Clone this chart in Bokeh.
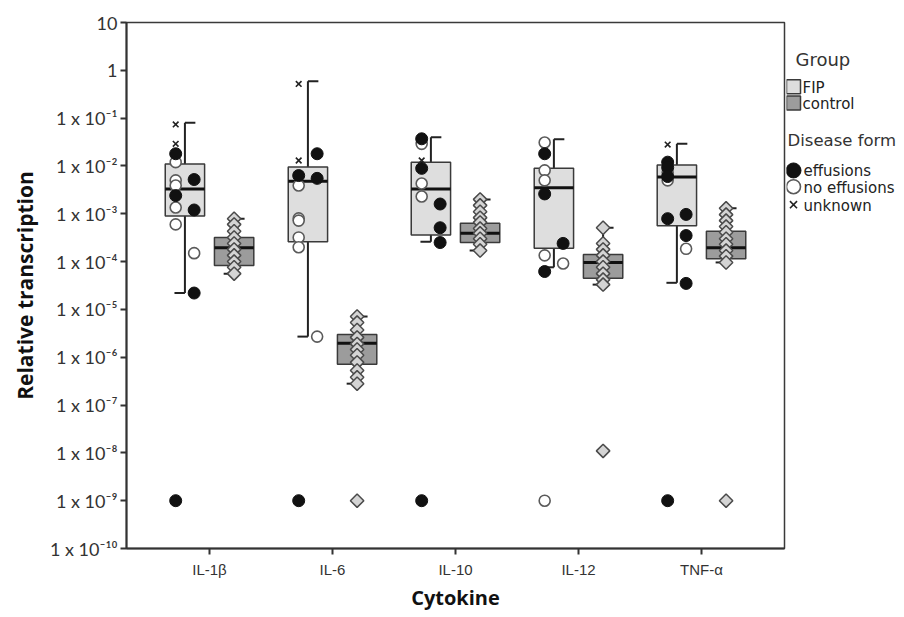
import json
from bokeh.plotting import figure
from bokeh.models import Range1d, FixedTicker, CustomJSTickFormatter, ColumnDataSource
from bokeh.layouts import row
from bokeh.embed import file_html
from bokeh.resources import INLINE
from bokeh.core.properties import value

# ---------------- data ----------------
cytokines = ["IL-1β", "IL-6", "IL-10", "IL-12", "TNF-α"]
groups = ["FIP", "control"]
forms = ["effusions", "no effusions", "unknown"]

# box statistics, FIP group
fip_whisker_hi = [8.0e-2, 0.59, 4.0e-2, 3.6e-2, 2.9e-2]
fip_q3 = [1.1e-2, 9.5e-3, 1.2e-2, 9.0e-3, 1.05e-2]
fip_median = [3.3e-3, 4.8e-3, 3.3e-3, 3.5e-3, 5.9e-3]
fip_q1 = [9.0e-4, 2.6e-4, 3.6e-4, 1.9e-4, 5.6e-4]
fip_whisker_lo = [2.2e-5, 2.7e-6, 2.6e-4, 7.6e-5, 3.6e-5]

# box statistics, control group
ctrl_whisker_hi = [7.9e-4, 7.1e-6, 2.0e-3, 5.1e-4, 1.3e-3]
ctrl_q3 = [3.2e-4, 3.0e-6, 6.3e-4, 1.4e-4, 4.3e-4]
ctrl_median = [1.95e-4, 1.95e-6, 3.9e-4, 9.6e-5, 1.95e-4]
ctrl_q1 = [8.3e-5, 7.1e-7, 2.5e-4, 4.5e-5, 1.15e-4]
ctrl_whisker_lo = [5.6e-5, 2.8e-7, 1.7e-4, 3.3e-5, 9.6e-5]

# FIP individual cats: cytokine, value, disease form, column (-1 left / +1 right)
fip_cytokine = (["IL-1β"] * 14 + ["IL-6"] * 12 + ["IL-10"] * 10 + ["IL-12"] * 10 + ["TNF-α"] * 12)
fip_value = [
    7.4e-2, 2.9e-2, 1.8e-2, 1.2e-2, 5.2e-3, 5.0e-3, 3.9e-3, 2.4e-3, 1.35e-3, 1.2e-3, 6.0e-4, 1.5e-4, 2.2e-5, 1e-9,
    0.52, 1.3e-2, 1.8e-2, 6.3e-3, 5.5e-3, 3.9e-3, 8.0e-4, 7.2e-4, 3.2e-4, 2.0e-4, 2.7e-6, 1e-9,
    3.7e-2, 2.9e-2, 1.3e-2, 8.9e-3, 4.3e-3, 2.3e-3, 1.6e-3, 5.1e-4, 2.5e-4, 1e-9,
    3.1e-2, 1.8e-2, 8.1e-3, 5.0e-3, 2.6e-3, 2.4e-4, 1.35e-4, 9.1e-5, 6.2e-5, 1e-9,
    2.8e-2, 1.2e-2, 9.3e-3, 7.3e-3, 6.0e-3, 5.0e-3, 9.7e-4, 7.9e-4, 3.5e-4, 1.85e-4, 3.5e-5, 1e-9,
]
fip_form = [
    "unknown", "unknown", "effusions", "no effusions", "effusions", "no effusions", "no effusions",
    "effusions", "no effusions", "effusions", "no effusions", "no effusions", "effusions", "effusions",
    "unknown", "unknown", "effusions", "effusions", "effusions", "no effusions", "no effusions",
    "no effusions", "no effusions", "no effusions", "no effusions", "effusions",
    "effusions", "no effusions", "unknown", "effusions", "no effusions", "no effusions", "effusions",
    "effusions", "effusions", "effusions",
    "no effusions", "effusions", "no effusions", "no effusions", "effusions", "effusions",
    "no effusions", "no effusions", "effusions", "no effusions",
    "unknown", "effusions", "effusions", "no effusions", "effusions", "no effusions", "effusions",
    "effusions", "effusions", "no effusions", "effusions", "effusions",
]
fip_column = [
    -1, -1, -1, -1, 1, -1, -1, -1, -1, 1, -1, 1, 1, -1,
    -1, -1, 1, -1, 1, -1, -1, -1, -1, -1, 1, -1,
    -1, -1, -1, -1, -1, -1, 1, 1, 1, -1,
    -1, -1, -1, -1, -1, 1, -1, 1, -1, -1,
    -1, -1, -1, -1, -1, -1, 1, -1, 1, 1, 1, -1,
]

# control individual cats
ctrl_cytokine = (["IL-1β"] * 10 + ["IL-6"] * 12 + ["IL-10"] * 10 + ["IL-12"] * 10 + ["TNF-α"] * 11)
ctrl_value = [
    7.9e-4, 6.0e-4, 4.3e-4, 3.2e-4, 2.4e-4, 1.8e-4, 1.35e-4, 1.0e-4, 7.6e-5, 5.6e-5,
    7.1e-6, 5.3e-6, 3.7e-6, 2.6e-6, 1.9e-6, 1.45e-6, 1.1e-6, 7.8e-7, 5.3e-7, 3.8e-7, 2.8e-7, 1e-9,
    2.0e-3, 1.5e-3, 1.1e-3, 8.3e-4, 6.6e-4, 4.9e-4, 3.9e-4, 3.0e-4, 2.3e-4, 1.7e-4,
    5.1e-4, 2.4e-4, 1.8e-4, 1.35e-4, 1.0e-4, 7.6e-5, 5.6e-5, 4.2e-5, 3.3e-5, 1.1e-8,
    1.3e-3, 9.6e-4, 7.2e-4, 5.4e-4, 4.1e-4, 3.0e-4, 2.3e-4, 1.7e-4, 1.3e-4, 9.6e-5, 1e-9,
]

y_tick_exponents = [1, 0, -1, -2, -3, -4, -5, -6, -7, -8, -9, -10]
y_tick_labels = ["10", "1", "1 x 10⁻¹", "1 x 10⁻²", "1 x 10⁻³", "1 x 10⁻⁴", "1 x 10⁻⁵",
                 "1 x 10⁻⁶", "1 x 10⁻⁷", "1 x 10⁻⁸", "1 x 10⁻⁹", "1 x 10⁻¹⁰"]

# ---------------- layout constants ----------------
FIP_OFF, CTRL_OFF = -0.20, 0.20
BOX_W = 0.32
SIDE = 0.075
CAP = 0.085
FIP_FILL, CTRL_FILL = "#dedede", "#9c9c9c"
EDGE = "#3a3a3a"
H = 615

p = figure(width=786, height=H, x_range=Range1d(-0.675, 4.675), y_range=Range1d(1e-10, 10),
           y_axis_type="log", output_backend="svg", toolbar_location=None,
           min_border_left=126, min_border_top=22, min_border_right=2, min_border_bottom=H - 548)
p.xgrid.visible = False
p.ygrid.visible = False
p.outline_line_color = EDGE
p.outline_line_width = 1.5
p.background_fill_color = "white"
p.border_fill_color = "white"

idx = {c: i for i, c in enumerate(cytokines)}


def draw_boxes(off, hi, q3, med, q1, lo, fill):
    xs = [i + off for i in range(len(cytokines))]
    src = ColumnDataSource(dict(x=xs, hi=hi, q3=q3, med=med, q1=q1, lo=lo,
                                xl=[x - BOX_W / 2 for x in xs], xr=[x + BOX_W / 2 for x in xs],
                                xc_r=[x + CAP for x in xs], xc_l=[x - CAP for x in xs]))
    p.segment(x0="x", y0="q3", x1="x", y1="hi", source=src, line_color="#222", line_width=2)
    p.segment(x0="x", y0="q1", x1="x", y1="lo", source=src, line_color="#222", line_width=2)
    p.segment(x0="x", y0="hi", x1="xc_r", y1="hi", source=src, line_color="#222", line_width=2)
    p.segment(x0="xc_l", y0="lo", x1="x", y1="lo", source=src, line_color="#222", line_width=2)
    p.vbar(x="x", width=BOX_W, top="q3", bottom="q1", source=src, fill_color=fill,
           line_color=EDGE, line_width=1.5)
    p.segment(x0="xl", y0="med", x1="xr", y1="med", source=src, line_color="#111", line_width=3)


draw_boxes(FIP_OFF, fip_whisker_hi, fip_q3, fip_median, fip_q1, fip_whisker_lo, FIP_FILL)
draw_boxes(CTRL_OFF, ctrl_whisker_hi, ctrl_q3, ctrl_median, ctrl_q1, ctrl_whisker_lo, CTRL_FILL)

# control points (diamonds)
cx = [idx[c] + CTRL_OFF for c in ctrl_cytokine]
p.scatter(x=cx, y=ctrl_value, marker="square", angle=0.785398, size=9.5,
          fill_color="#d4d4d4", line_color="#4a4a4a", line_width=1.5)

# FIP points
styles = {
    "effusions": dict(marker="circle", size=12, fill_color="#111111", line_color="#111111", line_width=1),
    "no effusions": dict(marker="circle", size=11, fill_color="white", line_color="#5a5a5a", line_width=1.6),
    "unknown": dict(marker="x", size=8, fill_color=None, line_color="#222222", line_width=1.6),
}
for f in ["no effusions", "effusions", "unknown"]:
    xs = [idx[c] + FIP_OFF + SIDE * s for c, fm, s in zip(fip_cytokine, fip_form, fip_column) if fm == f]
    ys = [v for v, fm in zip(fip_value, fip_form) if fm == f]
    p.scatter(x=xs, y=ys, **styles[f])

# axes
p.xaxis.ticker = FixedTicker(ticks=list(range(len(cytokines))))
p.xaxis.major_label_overrides = {i: c for i, c in enumerate(cytokines)}
p.xaxis.major_label_text_font = "Liberation Sans"
p.xaxis.major_label_text_font_size = "15px"
p.xaxis.major_label_text_color = "#333"
p.xaxis.major_label_standoff = 6
p.xaxis.major_tick_out = 6
p.xaxis.major_tick_in = 0
p.xaxis.major_tick_line_width = 2
p.xaxis.major_tick_line_color = "#333"
p.xaxis.axis_line_color = "#333"
p.xaxis.axis_line_width = 2
p.xaxis.axis_label = "Cytokine"
p.xaxis.axis_label_text_font = "Open Sans"
p.xaxis.axis_label_text_font_style = "bold"
p.xaxis.axis_label_text_font_size = "20px"
p.xaxis.axis_label_text_color = "#111"
p.xaxis.axis_label_standoff = 3

p.yaxis.ticker = FixedTicker(ticks=[10.0 ** e for e in y_tick_exponents])
lab_map = {str(e): l for e, l in zip(y_tick_exponents, y_tick_labels)}
p.yaxis.formatter = CustomJSTickFormatter(
    code="const m = " + json.dumps(lab_map, ensure_ascii=False) +
         "; const e = Math.round(Math.log10(tick)); return m[String(e)] || '';")
p.yaxis.major_label_text_font = "Lato"
p.yaxis.major_label_text_font_size = "18px"
p.yaxis.major_label_text_color = "#333"
p.yaxis.major_label_standoff = 3
p.yaxis.major_tick_out = 6
p.yaxis.major_tick_in = 0
p.yaxis.major_tick_line_width = 2
p.yaxis.major_tick_line_color = "#333"
p.yaxis.minor_tick_line_color = None
p.yaxis.axis_line_color = "#333"
p.yaxis.axis_line_width = 2
p.yaxis.axis_label = "Relative transcription"
p.yaxis.axis_label_text_font = "Open Sans"
p.yaxis.axis_label_text_font_style = "bold"
p.yaxis.axis_label_text_font_size = "21px"
p.yaxis.axis_label_text_color = "#111"
p.yaxis.axis_label_standoff = 8

# ---------------- legend panel ----------------
leg = figure(width=118, height=H, x_range=Range1d(0, 118), y_range=Range1d(H, 0),
             output_backend="svg", toolbar_location=None, min_border=0)
leg.axis.visible = False
leg.grid.visible = False
leg.outline_line_color = None
LF = value("DejaVu Sans")

leg.text(x=[9], y=[43], text=["Group"], text_font=LF, text_font_size="18px",
         text_color="#333", text_baseline="middle", text_align="left")
leg.scatter(x=[7, 7], y=[75, 94], marker="square", size=14,
            fill_color=[FIP_FILL, CTRL_FILL], line_color=EDGE, line_width=1.5)
leg.text(x=[16, 16], y=[76, 95], text=groups, text_font=LF, text_font_size="15px",
         text_color="#222", text_baseline="middle", text_align="left")

leg.text(x=[1], y=[138], text=["Disease form"], text_font=LF, text_font_size="16.5px",
         text_color="#333", text_baseline="middle", text_align="left")
leg_y = [173, 192, 213]
for f, yy in zip(forms, leg_y):
    st = dict(styles[f])
    st["size"] = st["size"] + 3 if f != "unknown" else 10
    leg.scatter(x=[7], y=[yy], **st)
leg.text(x=[17, 17, 17], y=[174, 193, 214], text=forms, text_font=LF, text_font_size="15px",
         text_color="#222", text_baseline="middle", text_align="left")

layout = row(p, leg)
open("out.html", "w").write(file_html(layout, INLINE))
